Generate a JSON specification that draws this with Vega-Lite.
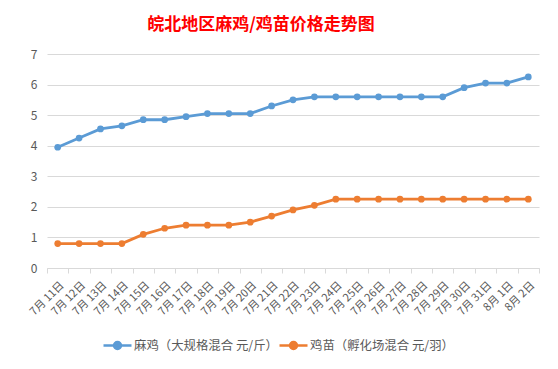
{
  "$schema": "https://vega.github.io/schema/vega-lite/v6.json",
  "width": 492,
  "height": 214,
  "autosize": {"type": "none"},
  "padding": {"left": 47, "top": 54, "right": 19, "bottom": 101},
  "background": "white",
  "title": {
    "text": "皖北地区麻鸡/鸡苗价格走势图",
    "color": "#ff0000",
    "font": "Noto Sans CJK SC",
    "fontSize": 17,
    "fontWeight": "bold",
    "anchor": "middle",
    "dx": -32,
    "offset": 14
  },
  "config": {
    "view": {"stroke": null},
    "font": "Noto Sans CJK SC"
  },
  "data": {
    "values": [
      {"date": "7月 11日", "series": "麻鸡（大规格混合 元/斤）", "value": 3.95},
      {"date": "7月 12日", "series": "麻鸡（大规格混合 元/斤）", "value": 4.25},
      {"date": "7月 13日", "series": "麻鸡（大规格混合 元/斤）", "value": 4.55},
      {"date": "7月 14日", "series": "麻鸡（大规格混合 元/斤）", "value": 4.65},
      {"date": "7月 15日", "series": "麻鸡（大规格混合 元/斤）", "value": 4.85},
      {"date": "7月 16日", "series": "麻鸡（大规格混合 元/斤）", "value": 4.85},
      {"date": "7月 17日", "series": "麻鸡（大规格混合 元/斤）", "value": 4.95},
      {"date": "7月 18日", "series": "麻鸡（大规格混合 元/斤）", "value": 5.05},
      {"date": "7月 19日", "series": "麻鸡（大规格混合 元/斤）", "value": 5.05},
      {"date": "7月 20日", "series": "麻鸡（大规格混合 元/斤）", "value": 5.05},
      {"date": "7月 21日", "series": "麻鸡（大规格混合 元/斤）", "value": 5.3},
      {"date": "7月 22日", "series": "麻鸡（大规格混合 元/斤）", "value": 5.5},
      {"date": "7月 23日", "series": "麻鸡（大规格混合 元/斤）", "value": 5.6},
      {"date": "7月 24日", "series": "麻鸡（大规格混合 元/斤）", "value": 5.6},
      {"date": "7月 25日", "series": "麻鸡（大规格混合 元/斤）", "value": 5.6},
      {"date": "7月 26日", "series": "麻鸡（大规格混合 元/斤）", "value": 5.6},
      {"date": "7月 27日", "series": "麻鸡（大规格混合 元/斤）", "value": 5.6},
      {"date": "7月 28日", "series": "麻鸡（大规格混合 元/斤）", "value": 5.6},
      {"date": "7月 29日", "series": "麻鸡（大规格混合 元/斤）", "value": 5.6},
      {"date": "7月 30日", "series": "麻鸡（大规格混合 元/斤）", "value": 5.9},
      {"date": "7月 31日", "series": "麻鸡（大规格混合 元/斤）", "value": 6.05},
      {"date": "8月 1日", "series": "麻鸡（大规格混合 元/斤）", "value": 6.05},
      {"date": "8月 2日", "series": "麻鸡（大规格混合 元/斤）", "value": 6.25},
      {"date": "7月 11日", "series": "鸡苗（孵化场混合 元/羽）", "value": 0.8},
      {"date": "7月 12日", "series": "鸡苗（孵化场混合 元/羽）", "value": 0.8},
      {"date": "7月 13日", "series": "鸡苗（孵化场混合 元/羽）", "value": 0.8},
      {"date": "7月 14日", "series": "鸡苗（孵化场混合 元/羽）", "value": 0.8},
      {"date": "7月 15日", "series": "鸡苗（孵化场混合 元/羽）", "value": 1.1},
      {"date": "7月 16日", "series": "鸡苗（孵化场混合 元/羽）", "value": 1.3},
      {"date": "7月 17日", "series": "鸡苗（孵化场混合 元/羽）", "value": 1.4},
      {"date": "7月 18日", "series": "鸡苗（孵化场混合 元/羽）", "value": 1.4},
      {"date": "7月 19日", "series": "鸡苗（孵化场混合 元/羽）", "value": 1.4},
      {"date": "7月 20日", "series": "鸡苗（孵化场混合 元/羽）", "value": 1.5},
      {"date": "7月 21日", "series": "鸡苗（孵化场混合 元/羽）", "value": 1.7},
      {"date": "7月 22日", "series": "鸡苗（孵化场混合 元/羽）", "value": 1.9},
      {"date": "7月 23日", "series": "鸡苗（孵化场混合 元/羽）", "value": 2.05},
      {"date": "7月 24日", "series": "鸡苗（孵化场混合 元/羽）", "value": 2.25},
      {"date": "7月 25日", "series": "鸡苗（孵化场混合 元/羽）", "value": 2.25},
      {"date": "7月 26日", "series": "鸡苗（孵化场混合 元/羽）", "value": 2.25},
      {"date": "7月 27日", "series": "鸡苗（孵化场混合 元/羽）", "value": 2.25},
      {"date": "7月 28日", "series": "鸡苗（孵化场混合 元/羽）", "value": 2.25},
      {"date": "7月 29日", "series": "鸡苗（孵化场混合 元/羽）", "value": 2.25},
      {"date": "7月 30日", "series": "鸡苗（孵化场混合 元/羽）", "value": 2.25},
      {"date": "7月 31日", "series": "鸡苗（孵化场混合 元/羽）", "value": 2.25},
      {"date": "8月 1日", "series": "鸡苗（孵化场混合 元/羽）", "value": 2.25},
      {"date": "8月 2日", "series": "鸡苗（孵化场混合 元/羽）", "value": 2.25}
    ]
  },
  "mark": {
    "type": "line",
    "strokeWidth": 2.8,
    "point": {"filled": true, "size": 45}
  },
  "encoding": {
    "x": {
      "field": "date",
      "type": "ordinal",
      "sort": null,
      "bandPosition": 0.5,
      "scale": {"type": "band", "paddingInner": 0, "paddingOuter": 0},
      "axis": {
        "title": null,
        "labelAngle": -45,
        "labelFontSize": 11,
        "labelColor": "#595959",
        "labelFont": "Noto Sans CJK SC",
        "tickBand": "extent",
        "domainColor": "#d9d9d9",
        "tickColor": "#d9d9d9",
        "tickSize": 5,
        "labelPadding": 6,
        "labelOffset": 0,
        "grid": false
      }
    },
    "y": {
      "field": "value",
      "type": "quantitative",
      "scale": {"domain": [0, 7]},
      "axis": {
        "title": null,
        "values": [0, 1, 2, 3, 4, 5, 6, 7],
        "domain": false,
        "ticks": false,
        "labelFontSize": 12,
        "labelColor": "#595959",
        "labelPadding": 10,
        "gridColor": "#d9d9d9",
        "gridWidth": 1
      }
    },
    "color": {
      "field": "series",
      "type": "nominal",
      "sort": null,
      "scale": {
        "domain": ["麻鸡（大规格混合 元/斤）", "鸡苗（孵化场混合 元/羽）"],
        "range": ["#5b9bd5", "#ed7d31"]
      },
      "legend": {
        "title": null,
        "orient": "none",
        "direction": "horizontal",
        "legendX": 55,
        "legendY": 276,
        "labelFontSize": 12.4,
        "labelColor": "#595959",
        "symbolType": "M-1,0L1,0M-0.25,0A0.25,0.25 0 1 1 0.25,0A0.25,0.25 0 1 1 -0.25,0",
        "symbolSize": 784,
        "symbolStrokeWidth": 2.5,
        "labelOffset": 1,
        "columnPadding": -20,
        "encode": {
          "symbols": {
            "update": {
              "fill": {"scale": "color", "field": "value"},
              "stroke": {"scale": "color", "field": "value"}
            }
          }
        }
      }
    }
  }
}
